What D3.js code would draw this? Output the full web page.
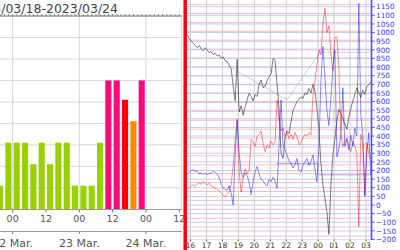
<!DOCTYPE html>
<html><head><meta charset="utf-8">
<script src="https://cdn.jsdelivr.net/npm/d3@7/dist/d3.min.js"></script>
<style>html,body{margin:0;padding:0;background:#fff;}svg{display:block;font-family:"DejaVu Sans",sans-serif;}</style>
</head><body>
<script>
// ---------- Left panel data (Kp, 3-hour bars starting 21 Mar 18:00) ----------
const kpTitle = "2023/03/18-2023/03/24";
const kpStartHour = -6; // hours relative to 22 Mar 00:00
const kpValues = [1.1, 3.1, 3.1, 3.1, 2.1, 3.1, 2.1, 3.1, 3.1, 1.1, 1.1, 1.1, 3.1, 6.0, 6.0, 5.1, 4.1, 6.0];
const kpHourTicks = [0, 12, 24, 36, 48, 60];
const kpHourLabels = ["00", "12", "00", "12", "00", "12"];
const kpDayTicks = [0, 24, 48];
const kpDayLabels = ["22 Mar.", "23 Mar.", "24 Mar."];

// ---------- Right panel data (index i -> day = -0.2 + i*0.125) ----------
const dayLabels = ["16","17","18","19","20","21","22","23","00","01","02","03"];
const seriesStart = -0.2, seriesStep = 0.125;
const blackSeries = [986,965,950,938,925,912,925,905,896,912,898,884,890,872,880,864,870,852,858,838,
  830,810,790,690,605,845,540,575,520,570,610,648,630,605,640,630,700,725,680,690,
  720,745,760,850,840,700,560,300,270,390,430,415,480,545,575,600,612,628,618,650,
  640,675,650,700,660,560,440,240,120,40,-40,-170,110,290,380,490,555,530,500,470,
  440,510,560,605,640,680,650,625,665,640,685,700,715];
const redSeries = [95,100,110,118,108,122,128,120,135,125,118,125,110,104,96,92,80,68,58,46,
  62,82,120,230,370,500,190,75,160,210,180,205,380,365,340,395,410,430,360,310,
  345,330,370,350,360,610,500,430,445,400,420,385,410,380,420,395,350,360,390,410,
  400,420,405,640,720,810,900,870,1050,1140,1000,1040,880,780,970,975,790,410,340,370,
  390,345,310,370,340,300,-125,410,360,55,360,300,265];
const blueSeries = [180,190,200,205,192,198,180,186,178,184,176,185,182,196,188,178,160,120,98,90,
  86,112,70,0,290,490,300,190,160,185,170,130,60,140,190,225,180,150,140,120,
  110,150,135,160,140,95,350,610,350,320,290,255,240,215,235,270,200,190,230,250,
  270,230,250,290,210,135,350,720,920,740,550,460,620,800,900,280,330,400,680,340,
  380,320,405,340,445,400,1170,520,405,50,300,420,175];
const grayRefDays = [2.48, 6.05, 8.1, 11.4];
const grayRefValues = [800, 609, 885, 885];
const blueRefDays = [5.4, 8.0, 8.0, 11.4];
const blueRefValues = [240, 240, 175, 175];
const rightTicks = d3.range(-200, 1151, 50);
const redGridTicks = d3.range(0, 2700, 100);

const W = 400, H = 250;
const svg = d3.select("body").append("svg").attr("width", W).attr("height", H);

// ================= LEFT PANEL =================
const xL = d3.scaleLinear().domain([0, 60]).range([12.67, 179.3]);
const yL = d3.scaleLinear().domain([0, 9]).range([209.3, 16]);
const L = svg.append("g");
L.selectAll(".hg").data(d3.range(1, 9)).join("line")
  .attr("x1", 0).attr("x2", 182).attr("y1", d => yL(d)).attr("y2", d => yL(d))
  .attr("stroke", "#d8d8d8").attr("stroke-width", 1);
L.selectAll(".vg").data(kpDayTicks).join("line")
  .attr("x1", d => xL(d)).attr("x2", d => xL(d)).attr("y1", 16).attr("y2", 209.3)
  .attr("stroke", "#d8d8d8").attr("stroke-width", 1);
L.append("line").attr("x1", 181.5).attr("x2", 181.5).attr("y1", 16).attr("y2", 209.3)
  .attr("stroke", "#e0e0e0").attr("stroke-width", 1);
const kpColor = v => v >= 6 ? "#ff0a78" : v >= 5 ? "#ff0000" : v >= 4 ? "#ff8c00" : "#99d100";
L.selectAll(".bar").data(kpValues).join("rect")
  .attr("x", (d, i) => xL(kpStartHour + i * 3) + 1)
  .attr("width", xL(3) - xL(0) - 2.2)
  .attr("y", d => yL(d)).attr("height", d => yL(0) - yL(d))
  .attr("fill", d => kpColor(d));
L.append("line").attr("x1", 0).attr("x2", 182).attr("y1", 16).attr("y2", 16).attr("stroke", "#666").attr("stroke-width", 1);
L.selectAll(".tt").data(d3.range(-6, 61, 1.5)).join("line")
  .attr("x1", d => xL(d)).attr("x2", d => xL(d)).attr("y1", 16).attr("y2", 14)
  .attr("stroke", "#777").attr("stroke-width", 0.8);
L.append("text").attr("x", 118).attr("y", 13.3).attr("text-anchor", "end")
  .attr("font-size", 12.5).attr("fill", "#444").text(kpTitle);
L.append("line").attr("x1", 0).attr("x2", 182).attr("y1", 209.5).attr("y2", 209.5).attr("stroke", "#999");
L.selectAll(".bt").data(kpHourTicks).join("line")
  .attr("x1", d => xL(d)).attr("x2", d => xL(d)).attr("y1", 209.5).attr("y2", 212.5).attr("stroke", "#777");
L.selectAll(".bl").data(kpHourTicks).join("text")
  .attr("x", d => xL(d)).attr("y", 222.3).attr("text-anchor", "middle")
  .attr("font-size", 9.5).attr("fill", "#555").text((d, i) => kpHourLabels[i]);
L.append("line").attr("x1", 0).attr("x2", 182).attr("y1", 231.5).attr("y2", 231.5).attr("stroke", "#999");
L.selectAll(".dt").data(kpDayTicks).join("line")
  .attr("x1", d => xL(d)).attr("x2", d => xL(d)).attr("y1", 231.5).attr("y2", 234).attr("stroke", "#777");
L.selectAll(".dl").data(kpDayTicks).join("text")
  .attr("x", d => xL(d)).attr("y", 247).attr("text-anchor", "middle")
  .attr("font-size", 11).attr("fill", "#555").text((d, i) => kpDayLabels[i]);

// ================= RIGHT PANEL =================
const xR = d3.scaleLinear().domain([0, 11]).range([190.5, 366]);
const yR = d3.scaleLinear().domain([-200, 1150]).range([239.5, 6.7]);
const yRed = d3.scaleLinear().domain([0, 2600]).range([236, 4.6]);
const R = svg.append("g");
R.append("rect").attr("x", 184).attr("y", 0).attr("width", 216).attr("height", H).attr("fill", "#fff");
svg.append("defs").append("clipPath").attr("id", "cp").append("rect")
  .attr("x", 187).attr("y", 0).attr("width", 184.5).attr("height", 239.5);
const P = R.append("g").attr("clip-path", "url(#cp)");
P.selectAll(".rg").data(redGridTicks).join("line")
  .attr("x1", 187).attr("x2", 372).attr("y1", d => yRed(d)).attr("y2", d => yRed(d))
  .attr("stroke", "#f4bfca").attr("stroke-width", 1);
P.selectAll(".bg").data(d3.range(-200, 1251, 50)).join("line")
  .attr("x1", 187).attr("x2", 372).attr("y1", d => yR(d)).attr("y2", d => yR(d))
  .attr("stroke", "#c8c8f2").attr("stroke-width", 1);
P.selectAll(".vg").data(dayLabels).join("line")
  .attr("x1", (d, i) => xR(i)).attr("x2", (d, i) => xR(i)).attr("y1", 0).attr("y2", 240)
  .attr("stroke", "#cccccc").attr("stroke-width", 1);
const refLine = d3.line().x(d => xR(d[0])).y(d => yR(d[1]));
P.append("path").attr("d", refLine(grayRefDays.map((d, i) => [d, grayRefValues[i]])))
  .attr("fill", "none").attr("stroke", "#999").attr("stroke-opacity", 0.45).attr("stroke-width", 1);
P.append("path").attr("d", refLine(blueRefDays.map((d, i) => [d, blueRefValues[i]])))
  .attr("fill", "none").attr("stroke", "#5555ff").attr("stroke-opacity", 0.45).attr("stroke-width", 1);
const sLine = d3.line().x((d, i) => xR(seriesStart + i * seriesStep)).y(d => yR(d));
P.append("path").attr("d", sLine(blackSeries)).attr("fill", "none")
  .attr("stroke", "#222").attr("stroke-opacity", 0.65).attr("stroke-width", 0.9);
P.append("path").attr("d", sLine(redSeries)).attr("fill", "none")
  .attr("stroke", "#ff0000").attr("stroke-opacity", 0.5).attr("stroke-width", 0.9);
P.append("path").attr("d", sLine(blueSeries)).attr("fill", "none")
  .attr("stroke", "#0000ff").attr("stroke-opacity", 0.5).attr("stroke-width", 0.9);
R.selectAll(".xl").data(dayLabels).join("text")
  .attr("x", (d, i) => xR(i)).attr("y", 248).attr("text-anchor", "middle")
  .attr("font-size", 7.5).attr("fill", "#333").text(d => d);
R.selectAll(".xt").data(dayLabels).join("line")
  .attr("x1", (d, i) => xR(i)).attr("x2", (d, i) => xR(i)).attr("y1", 239.5).attr("y2", 241.5).attr("stroke", "#555");
R.append("line").attr("x1", 371.5).attr("x2", 371.5).attr("y1", 0).attr("y2", 240)
  .attr("stroke", "#4d4dff").attr("stroke-width", 1.6);
R.selectAll(".yt").data(rightTicks).join("line")
  .attr("x1", 372).attr("x2", 374.5).attr("y1", d => yR(d)).attr("y2", d => yR(d)).attr("stroke", "#4d4dff");
R.selectAll(".yl").data(rightTicks).join("text")
  .attr("x", 376).attr("y", d => yR(d) + 2.7).attr("text-anchor", "start")
  .attr("font-size", 7.3).attr("fill", "#3b3bff").text(d => d < 0 ? "\u2212" + Math.abs(d) : d);
R.append("line").attr("x1", 185.2).attr("x2", 185.2).attr("y1", 0).attr("y2", H)
  .attr("stroke", "#ff0000").attr("stroke-width", 3.5);
</script>
</body></html>
